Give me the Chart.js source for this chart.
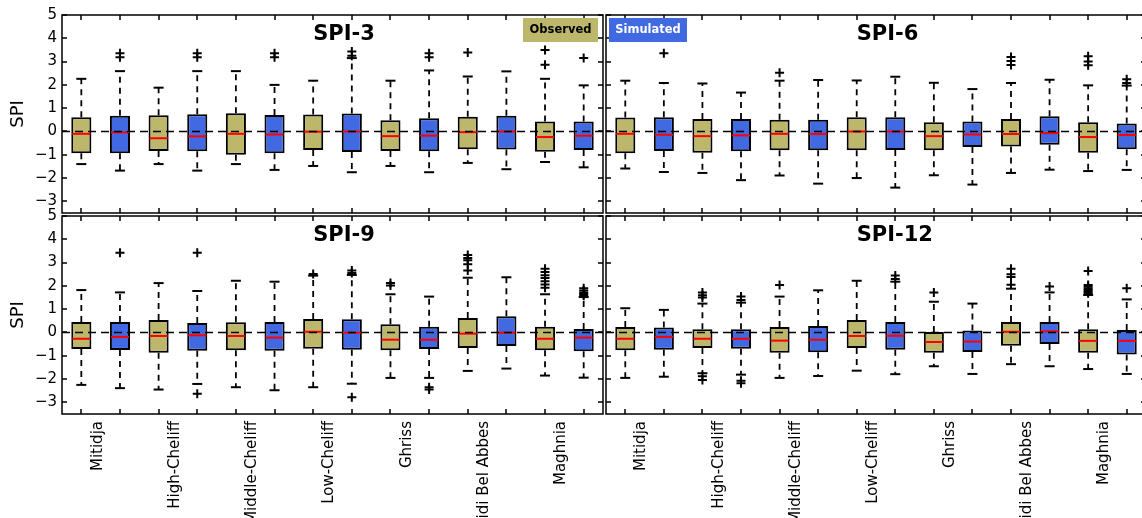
<!DOCTYPE html>
<html>
<head>
<meta charset="utf-8">
<script src="https://cdn.jsdelivr.net/npm/chart.js@4.4.0/dist/chart.umd.min.js"></script>
<style>
  html, body { margin: 0; padding: 0; background: #fff; overflow: hidden; }
  canvas.panel { position: absolute; left: 0; top: 0; }
</style>
</head>
<body>
<canvas id="spi3" class="panel" width="1160" height="518"></canvas>
<canvas id="spi6" class="panel" width="1160" height="518"></canvas>
<canvas id="spi9" class="panel" width="1160" height="518"></canvas>
<canvas id="spi12" class="panel" width="1160" height="518"></canvas>
<script>
// Regions (each one has an observed box followed by a simulated box)
const regions = ['Mitidja', 'High-Cheliff', 'Middle-Cheliff', 'Low-Cheliff', 'Ghriss', 'Sidi Bel Abbes', 'Maghnia'];
const yTicks = [-3, -2, -1, 0, 1, 2, 3, 4, 5];

// SPI-3
const spi3High = [2.26, 2.59, 1.88, 2.59, 2.59, 2.00, 2.18, 3.15, 2.18, 2.62, 2.36, 2.58, 2.26, 1.98];
const spi3Q3 = [0.61, 0.67, 0.70, 0.74, 0.78, 0.71, 0.73, 0.77, 0.48, 0.57, 0.63, 0.67, 0.43, 0.43];
const spi3Median = [-0.10, -0.04, -0.29, -0.21, -0.10, -0.13, -0.01, 0.00, -0.20, -0.18, -0.03, 0.00, -0.24, -0.18];
const spi3Q1 = [-0.93, -0.94, -0.84, -0.85, -1.00, -0.94, -0.80, -0.88, -0.84, -0.85, -0.76, -0.77, -0.87, -0.80];
const spi3Low = [-1.40, -1.68, -1.40, -1.68, -1.40, -1.65, -1.48, -1.75, -1.48, -1.75, -1.35, -1.62, -1.31, -1.54];
const spi3Outliers = [[], [3.36, 3.19], [], [3.36, 3.19], [], [3.36, 3.19], [], [3.43, 3.25], [], [3.36, 3.19], [3.39], [], [3.50, 2.86], [3.15]];

// SPI-6
const spi6High = [2.18, 2.08, 2.06, 1.67, 2.18, 2.21, 2.19, 2.35, 2.09, 1.82, 2.08, 2.22, 1.98, 1.97];
const spi6Q3 = [0.60, 0.61, 0.53, 0.53, 0.50, 0.50, 0.61, 0.61, 0.40, 0.43, 0.54, 0.65, 0.40, 0.34];
const spi6Median = [-0.10, -0.14, -0.20, -0.17, -0.10, -0.11, 0.00, 0.00, -0.20, -0.13, -0.11, -0.07, -0.24, -0.15];
const spi6Q1 = [-0.93, -0.84, -0.91, -0.85, -0.81, -0.81, -0.81, -0.80, -0.81, -0.67, -0.64, -0.57, -0.91, -0.76];
const spi6Low = [-1.59, -1.74, -1.78, -2.09, -1.89, -2.24, -2.00, -2.41, -1.88, -2.28, -1.78, -1.64, -1.70, -1.65];
const spi6Outliers = [[], [3.36], [], [], [2.52], [], [], [], [], [], [3.20, 3.02, 2.85], [], [3.23, 3.00, 2.84], [2.24, 2.08]];

// SPI-9
const spi9High = [1.82, 1.72, 2.12, 1.78, 2.22, 2.18, 2.44, 2.47, 1.64, 1.54, 2.35, 2.37, 1.64, 1.52];
const spi9Q3 = [0.45, 0.45, 0.54, 0.41, 0.44, 0.45, 0.58, 0.57, 0.35, 0.25, 0.62, 0.70, 0.25, 0.15];
const spi9Median = [-0.27, -0.19, -0.15, -0.12, -0.15, -0.22, 0.03, -0.01, -0.31, -0.31, -0.05, -0.01, -0.27, -0.22];
const spi9Q1 = [-0.71, -0.75, -0.87, -0.79, -0.76, -0.79, -0.70, -0.74, -0.76, -0.71, -0.67, -0.58, -0.76, -0.81];
const spi9Low = [-2.25, -2.39, -2.45, -2.21, -2.35, -2.48, -2.35, -2.20, -1.95, -1.95, -1.65, -1.55, -1.85, -1.94];
const spi9Outliers = [[], [3.42], [], [3.42, -2.63], [], [], [2.51], [2.66, 2.55, -2.78], [2.12, 2.02], [-2.35, -2.45],
  [3.33, 3.20, 3.10, 2.93, 2.66], [], [2.74, 2.60, 2.46, 2.34, 2.20, 2.06, 1.92], [1.90, 1.80, 1.72, 1.65, 1.58]];

// SPI-12
const spi12High = [1.04, 0.97, 1.24, 1.28, 1.54, 1.81, 2.22, 2.18, 1.32, 1.24, 1.88, 1.72, 1.61, 1.42];
const spi12Q3 = [0.24, 0.21, 0.14, 0.14, 0.24, 0.28, 0.54, 0.45, 0.02, 0.08, 0.45, 0.45, 0.14, 0.11];
const spi12Median = [-0.27, -0.19, -0.27, -0.27, -0.35, -0.31, -0.15, -0.14, -0.41, -0.39, 0.03, 0.05, -0.36, -0.36];
const spi12Q1 = [-0.76, -0.74, -0.67, -0.70, -0.87, -0.85, -0.67, -0.74, -0.87, -0.84, -0.57, -0.49, -0.87, -0.95];
const spi12Low = [-1.95, -1.90, -1.75, -1.81, -1.95, -1.87, -1.64, -1.79, -1.45, -1.78, -1.36, -1.45, -1.57, -1.78];
const spi12Outliers = [[], [], [1.72, 1.60, 1.50, -1.88, -2.04], [1.54, 1.39, -2.07, -2.18], [2.04], [], [], [2.45, 2.30], [1.72], [],
  [2.74, 2.50, 2.38, 2.05], [1.97], [2.64, 2.04, 1.96, 1.89, 1.82, 1.75, 1.68], [1.90]];

const observedColor = '#bdb76b';
const simulatedColor = '#4169e1';

Chart.defaults.font.family = "'DejaVu Sans', sans-serif";
Chart.defaults.color = '#000';

// x position of box i is i + 1
function boxPoints(lowVals, highVals) {
  return lowVals.map((v, i) => ({ x: i + 1, y: [v, highVals[i]] }));
}

function markerPoints(values) {
  return values.map((v, i) => ({ x: i + 1, y: v }));
}

function whiskerPoints(low, q1, q3, high) {
  const pts = [];
  for (let i = 0; i < low.length; i++) {
    const x = i + 1;
    pts.push({ x: x, y: q3[i] }, { x: x, y: high[i] }, { x: x, y: null });
    pts.push({ x: x, y: q1[i] }, { x: x, y: low[i] }, { x: x, y: null });
  }
  return pts;
}

function outlierPoints(outliers) {
  const pts = [];
  outliers.forEach((list, i) => list.forEach(v => pts.push({ x: i + 1, y: v })));
  return pts;
}

// Frame, inward tick marks, panel title and legend tag
const panelDecor = {
  id: 'panelDecor',
  afterDatasetsDraw(chart, args, opts) {
    const { ctx, chartArea: a, scales } = chart;
    const xs = scales.x, ys = scales.y;
    ctx.save();
    ctx.strokeStyle = '#000';
    ctx.lineWidth = 1.5;
    ctx.beginPath();
    for (let i = 1; i <= regions.length * 2; i++) {
      const px = Math.round(xs.getPixelForValue(i));
      ctx.moveTo(px, a.top); ctx.lineTo(px, a.top + 5);
      ctx.moveTo(px, a.bottom); ctx.lineTo(px, a.bottom - 5);
    }
    yTicks.forEach(v => {
      const py = Math.round(ys.getPixelForValue(v));
      ctx.moveTo(a.left, py); ctx.lineTo(a.left + 5, py);
      ctx.moveTo(a.right, py); ctx.lineTo(a.right - 5, py);
    });
    ctx.stroke();
    ctx.strokeRect(a.left, a.top, a.right - a.left, a.bottom - a.top);

    // title, left edge sits on box 7
    ctx.fillStyle = '#000';
    ctx.font = "bold 21px 'DejaVu Sans'";
    ctx.textAlign = 'left';
    ctx.textBaseline = 'alphabetic';
    ctx.fillText(opts.title, xs.getPixelForValue(7), a.top + 24.5);

    if (opts.tag) {
      const w = opts.tag === 'Observed' ? 75 : 78;
      const x0 = opts.tag === 'Observed' ? a.right - 5 - w : a.left + 3;
      const y0 = a.top + 3;
      ctx.fillStyle = opts.tag === 'Observed' ? observedColor : simulatedColor;
      ctx.fillRect(x0, y0, w, 24);
      ctx.fillStyle = opts.tag === 'Observed' ? '#000' : '#fff';
      ctx.font = "bold 11.5px 'DejaVu Sans'";
      ctx.textAlign = 'center';
      ctx.textBaseline = 'middle';
      ctx.fillText(opts.tag, x0 + w / 2, y0 + 12.5);
    }
    ctx.restore();
  }
};

function crearPanel(canvasId, title, tag, low, q1, median, q3, high, outliers, place) {
  const boxColors = low.map((v, i) => (i % 2 === 0 ? observedColor : simulatedColor));
  const ctx = document.getElementById(canvasId).getContext('2d');
  return new Chart(ctx, {
    type: 'bar',
    data: {
      datasets: [
        {
          data: boxPoints(q1, q3),
          backgroundColor: boxColors,
          borderColor: '#000',
          borderWidth: 2,
          borderSkipped: false,
          barPercentage: 0.52,
          categoryPercentage: 1,
          order: 5
        },
        {
          type: 'line',
          data: whiskerPoints(low, q1, q3, high),
          borderColor: '#000',
          borderWidth: 1.8,
          borderDash: [6, 5],
          pointRadius: 0,
          spanGaps: false,
          order: 4
        },
        {
          type: 'line',
          data: markerPoints(high).concat(markerPoints(low)),
          showLine: false,
          pointStyle: 'line',
          pointRadius: 5,
          pointBorderWidth: 2,
          pointBorderColor: '#000',
          order: 3
        },
        {
          type: 'line',
          data: markerPoints(median),
          showLine: false,
          pointStyle: 'line',
          pointRadius: 9,
          pointBorderWidth: 2,
          pointBorderColor: '#ff0000',
          order: 2
        },
        {
          type: 'line',
          data: outlierPoints(outliers),
          showLine: false,
          pointStyle: 'cross',
          pointRadius: 4.5,
          pointBorderWidth: 2,
          pointBorderColor: '#000',
          order: 1
        },
        {
          type: 'line',
          data: [{ x: 0.5, y: 0 }, { x: regions.length * 2 + 0.5, y: 0 }],
          borderColor: '#000',
          borderWidth: 1.6,
          borderDash: [8, 5],
          pointRadius: 0,
          order: 0
        }
      ]
    },
    options: {
      responsive: false,
      animation: false,
      devicePixelRatio: 1,
      layout: { padding: place.padding },
      plugins: {
        legend: { display: false },
        tooltip: { enabled: false },
        panelDecor: { title: title, tag: tag }
      },
      scales: {
        x: {
          type: 'linear',
          min: 0.5,
          max: regions.length * 2 + 0.5,
          offset: false,
          display: place.showX,
          grid: { display: false, drawTicks: false },
          border: { display: false },
          afterBuildTicks: scale => { scale.ticks = regions.map((r, i) => ({ value: i * 2 + 1.5 })); },
          afterFit: scale => { scale.height = place.showX ? 104 : 0; },
          ticks: {
            autoSkip: false,
            minRotation: 90,
            maxRotation: 90,
            padding: 7,
            labelOffset: -3,
            font: { size: 15 },
            callback: (value, index) => regions[index]
          }
        },
        y: {
          type: 'linear',
          min: -3.5,
          max: 5,
          display: place.showY,
          grid: { display: false, drawTicks: false },
          border: { display: false },
          afterBuildTicks: scale => { scale.ticks = yTicks.map(v => ({ value: v })); },
          afterFit: scale => { scale.width = place.showY ? 62 : 0; },
          title: { display: true, text: 'SPI', font: { size: 18 }, padding: { top: 8, bottom: 0 } },
          ticks: {
            autoSkip: false,
            padding: 5,
            font: { size: 15 },
            callback: v => (v < 0 ? '\u2212' + Math.abs(v) : String(v))
          }
        }
      }
    },
    plugins: [panelDecor]
  });
}

window.onload = () => {
  crearPanel('spi3', 'SPI-3', 'Observed', spi3Low, spi3Q1, spi3Median, spi3Q3, spi3High, spi3Outliers,
    { showX: false, showY: true, padding: { left: 0, top: 15, right: 557, bottom: 305 } });
  crearPanel('spi6', 'SPI-6', 'Simulated', spi6Low, spi6Q1, spi6Median, spi6Q3, spi6High, spi6Outliers,
    { showX: false, showY: false, padding: { left: 606, top: 15, right: 14, bottom: 305 } });
  crearPanel('spi9', 'SPI-9', null, spi9Low, spi9Q1, spi9Median, spi9Q3, spi9High, spi9Outliers,
    { showX: true, showY: true, padding: { left: 0, top: 216, right: 557, bottom: 0 } });
  crearPanel('spi12', 'SPI-12', null, spi12Low, spi12Q1, spi12Median, spi12Q3, spi12High, spi12Outliers,
    { showX: true, showY: false, padding: { left: 606, top: 216, right: 14, bottom: 0 } });
};
</script>
</body>
</html>
